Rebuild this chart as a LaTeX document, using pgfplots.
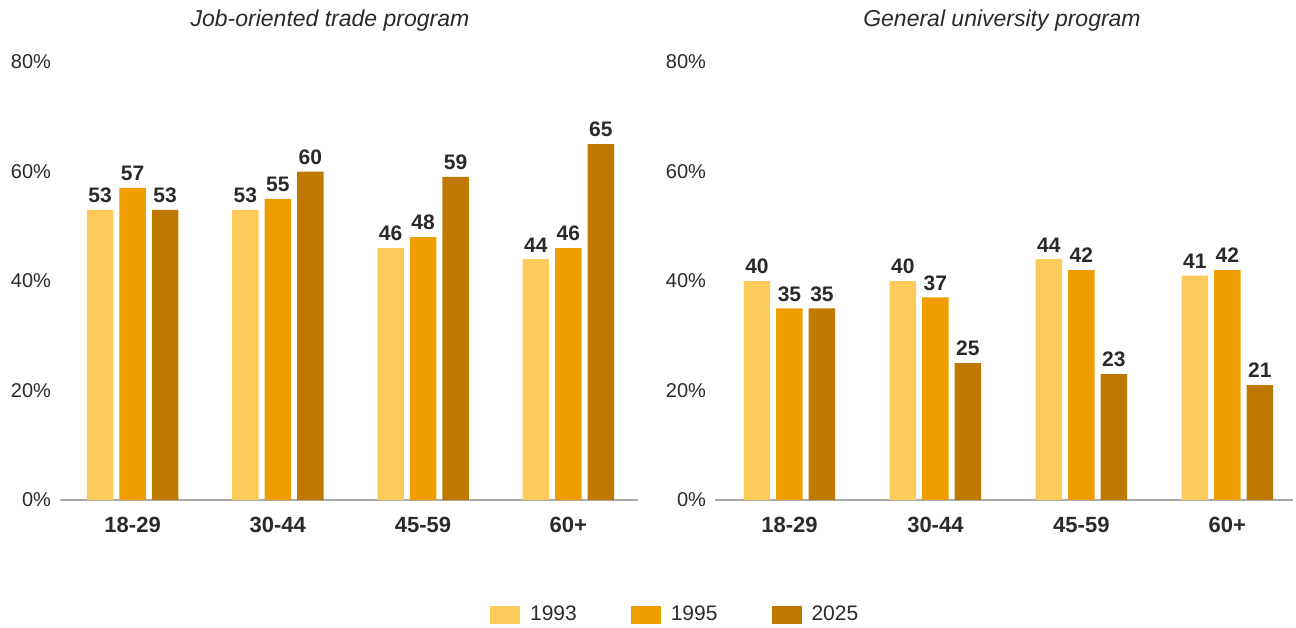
\documentclass[border=0pt]{standalone}
\usepackage{pgfplots}
\pgfplotsset{compat=1.18}
\usepackage{fontspec}
\setmainfont{Liberation Sans}
\definecolor{cA}{HTML}{FDCB5B}
\definecolor{cB}{HTML}{EE9E00}
\definecolor{cC}{HTML}{BF7900}
\definecolor{txt}{HTML}{2A2A2A}
\definecolor{axgray}{HTML}{AAAAAA}
\pgfplotsset{
  mybars/.style={
    scale only axis, width=289pt, height=219pt,
    anchor=south west,
    ybar=3pt, bar width=13.25pt,
    ymin=0, ymax=80,
    xtick={0,1,2,3},
    xticklabels={18-29,30-44,45-59,60+},
    ytick={0,20,40,60,80},
    yticklabel={\pgfmathprintnumber{\tick}\%},
    /pgf/number format/assume math mode=true,
    axis x line*=bottom, axis y line*=left,
    x axis line style={draw=axgray, line width=0.75pt, -},
    y axis line style={draw=none},
    major tick length=0pt,
    tick style={draw=none},
    yticklabel style={font=\fontsize{10}{12}\selectfont, text=txt, xshift=-1pt},
    xticklabel style={font=\fontsize{11}{13}\selectfont\bfseries, text=txt, yshift=-5pt},
    nodes near coords,
    every node near coord/.append style={font=\fontsize{10.5}{12}\selectfont\bfseries, text=txt, /pgf/number format/assume math mode=true},
    clip=false,
  }
}
\begin{document}
\begin{tikzpicture}
\useasboundingbox (0,0) rectangle (648pt,313.5pt);
\node[font=\fontsize{11.5}{13}\selectfont\itshape, text=txt] at (165pt,303pt) {Job-oriented trade program};
\node[font=\fontsize{11.5}{13}\selectfont\itshape, text=txt] at (501pt,303pt) {General university program};
\begin{axis}[mybars, at={(30pt,63.5pt)}, xmin=-0.5, xmax=3.48,
  legend columns=3,
  legend style={at={(1.066,-0.262)}, anchor=center, draw=none, fill=none,
    font=\fontsize{10.5}{12}\selectfont, text=txt,
    /tikz/every even column/.append style={column sep=25pt},
    /tikz/every odd column/.append style={column sep=3pt}},
  legend image code/.code={\fill[#1] (0pt,-4.5pt) rectangle (15pt,4.5pt);},
]
\addplot[fill=cA, draw=none] coordinates {(0,53) (1,53) (2,46) (3,44)};
\addplot[fill=cB, draw=none] coordinates {(0,57) (1,55) (2,48) (3,46)};
\addplot[fill=cC, draw=none] coordinates {(0,53) (1,60) (2,59) (3,65)};
\legend{1993,1995,2025}
\end{axis}
\begin{axis}[mybars, at={(357.5pt,63.5pt)}, xmin=-0.51, xmax=3.45]
\addplot[fill=cA, draw=none] coordinates {(0,40) (1,40) (2,44) (3,41)};
\addplot[fill=cB, draw=none] coordinates {(0,35) (1,37) (2,42) (3,42)};
\addplot[fill=cC, draw=none] coordinates {(0,35) (1,25) (2,23) (3,21)};
\end{axis}
\end{tikzpicture}
\end{document}
